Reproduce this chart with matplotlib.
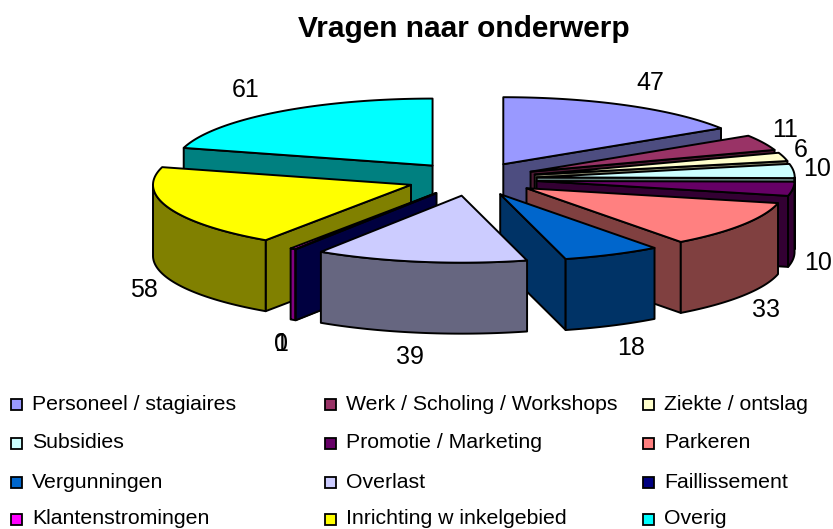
import numpy as np
import matplotlib
matplotlib.use('Agg')
import matplotlib.pyplot as plt
from matplotlib.patches import Polygon, Rectangle

plt.rcParams['font.family'] = ['Liberation Sans', 'DejaVu Sans']

categories = ['Personeel / stagiaires', 'Werk / Scholing / Workshops', 'Ziekte / ontslag',
              'Subsidies', 'Promotie / Marketing', 'Parkeren',
              'Vergunningen', 'Overlast', 'Faillissement',
              'Klantenstromingen', 'Inrichting w inkelgebied', 'Overig']
values = [47, 11, 6, 10, 10, 33, 18, 39, 0, 1, 58, 61]
top_colors = ['#9999FF', '#993366', '#FFFFCC', '#CCFFFF', '#660066', '#FF8080',
              '#0066CC', '#CCCCFF', '#000080', '#FF00FF', '#FFFF00', '#00FFFF']
side_colors = ['#4D4D80', '#4D1A33', '#808066', '#668080', '#330033', '#804040',
               '#003366', '#666680', '#000040', '#800080', '#808000', '#008080']
label_xy = [(650, 83), (785, 130), (801, 150), (817, 169), (818, 263), (766, 310),
            (631, 348), (410, 357), (281, 344), (281, 344), (144, 290), (246, 90)]

# pie geometry in pixels
cx, cy = 472, 179
rx, ry = 258, 67
explode = 65
depth = 71

fig = plt.figure(figsize=(8.33, 5.29), dpi=100)
ax = fig.add_axes([0, 0, 1, 1])
ax.set_xlim(0, 833)
ax.set_ylim(529, 0)
ax.axis('off')

ang = np.cumsum([0] + values) / sum(values) * 360
lw = 1.4


def pt(a, x0, y0):
    r = np.radians(a)
    return x0 + rx * np.sin(r), y0 - ry * np.cos(r)


def face(pts, color, z):
    ax.add_patch(Polygon(pts, closed=True, fc=color, ec='black', lw=lw, joinstyle='round', zorder=z))


# back slices first
order = sorted(range(len(values)), key=lambda i: -np.cos(np.radians((ang[i] + ang[i + 1]) / 2)))
for z, i in enumerate(order):
    a0, a1 = ang[i], ang[i + 1]
    mid = np.radians((a0 + a1) / 2)
    x0 = cx + explode * np.sin(mid)
    y0 = cy - explode * ry / rx * np.cos(mid)

    # radial walls
    for a, show in ((a0, np.sin(np.radians(a0)) < 0), (a1, np.sin(np.radians(a1)) > 0)):
        if show:
            x1, y1 = pt(a, x0, y0)
            face([(x0, y0), (x1, y1), (x1, y1 + depth), (x0, y0 + depth)], side_colors[i], z)

    # outer wall, front half only
    lo, hi = max(a0, 90), min(a1, 270)
    if hi > lo:
        arc = [pt(a, x0, y0) for a in np.linspace(lo, hi, 60)]
        low = [(x, y + depth) for x, y in arc[::-1]]
        face(arc + low, side_colors[i], z)

    # top
    arc = [pt(a, x0, y0) for a in np.linspace(a0, a1, 80)]
    face([(x0, y0)] + arc, top_colors[i], z)

for v, (x, y) in zip(values, label_xy):
    ax.text(x, y, str(v), fontsize=18, ha='center', va='center', color='black', zorder=50)

ax.text(464, 29, 'Vragen naar onderwerp', fontsize=21.5, fontweight='bold', ha='center', va='center')

# legend, three columns
col_x = [11, 325, 643]
row_y = [404, 443, 482, 519]
for i, name in enumerate(categories):
    x = col_x[i % 3]
    y = row_y[i // 3]
    ax.add_patch(Rectangle((x, y - 5.5), 11, 11, fc=top_colors[i], ec='black', lw=1.3))
    ax.text(x + 21, y, name, fontsize=15.3, ha='left', va='center')

fig.savefig('out.png', dpi=100)
